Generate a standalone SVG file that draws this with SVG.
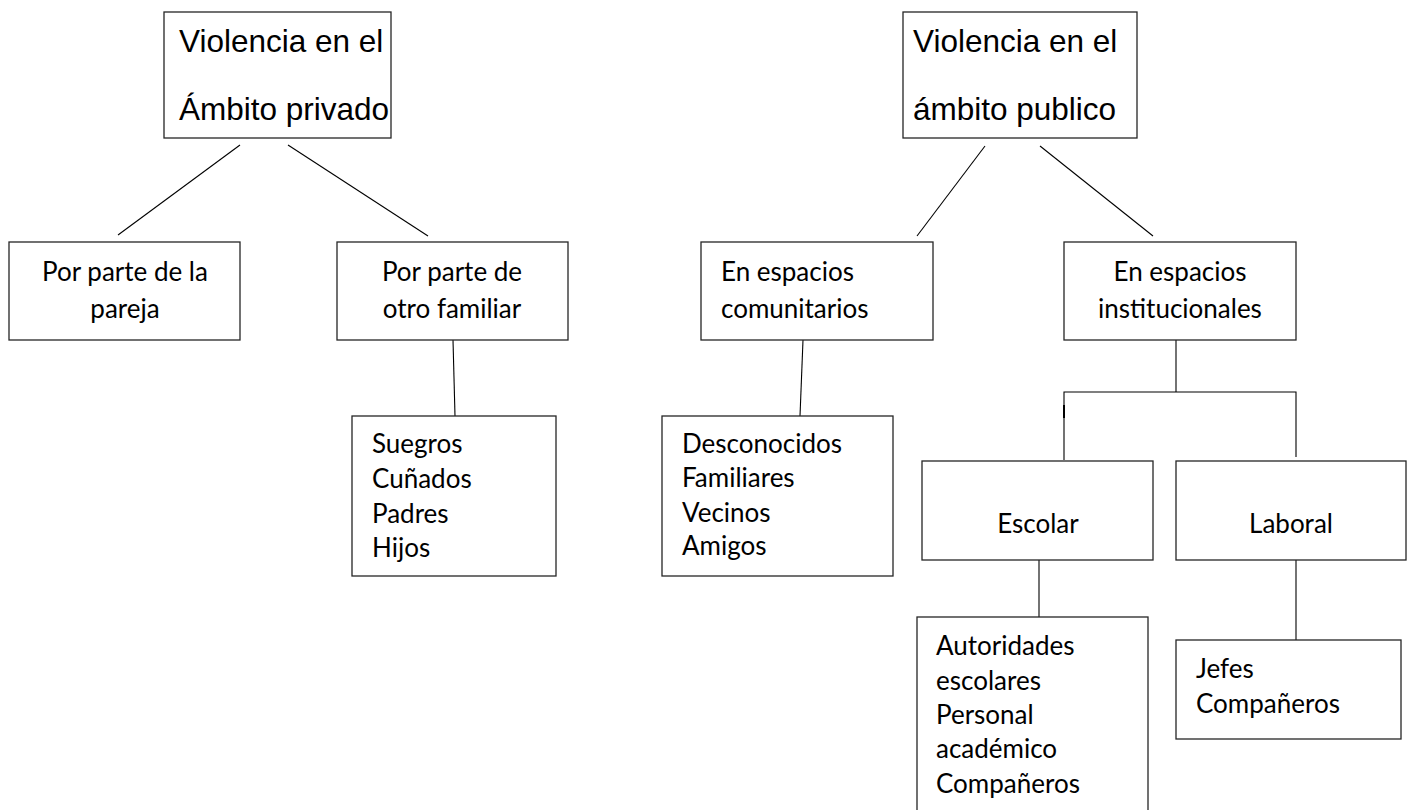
<svg xmlns="http://www.w3.org/2000/svg" width="1408" height="810" viewBox="0 0 1408 810">
<style>
.box{fill:#fff;stroke:#262626;stroke-width:1.3}
.big{font-family:"Liberation Sans",Arial,sans-serif;font-size:31.5px;fill:#000}
.t{font-family:Lato,"Open Sans",sans-serif;font-size:26px;fill:#000}
.c{text-anchor:middle}
.ln{stroke:#000;stroke-width:1.1;fill:none}
</style>
<rect width="1408" height="810" fill="#fff"/>
<g id="connectors">
<line class="ln" x1="240" y1="145" x2="118" y2="235"/>
<line class="ln" x1="288" y1="145" x2="428" y2="236"/>
<line class="ln" x1="985" y1="146" x2="917" y2="236"/>
<line class="ln" x1="1040" y1="146" x2="1153" y2="236"/>
<line class="ln" x1="453" y1="340" x2="455" y2="416"/>
<line class="ln" x1="803" y1="340" x2="800" y2="416"/>
<polyline class="ln" points="1176,340 1176,392"/>
<polyline class="ln" points="1064,460 1064,392 1296,392 1296,457"/>
<line x1="1064" y1="405" x2="1064" y2="418" stroke="#000" stroke-width="2"/>
<line class="ln" x1="1039" y1="560" x2="1039" y2="617"/>
<line class="ln" x1="1296" y1="560" x2="1296" y2="640"/>
</g>
<g id="n-privado">
<rect class="box" x="164" y="12" width="227" height="126"/>
<text class="big" x="179" y="52">Violencia en el</text>
<text class="big" x="179" y="120">Ámbito privado</text>
</g>
<g id="n-publico">
<rect class="box" x="903" y="12" width="234" height="126"/>
<text class="big" x="913" y="52">Violencia en el</text>
<text class="big" x="913" y="120">ámbito publico</text>
</g>
<g id="n-pareja">
<rect class="box" x="9" y="242" width="231" height="98"/>
<text class="t c" x="125" y="281">Por parte de la</text>
<text class="t c" x="125" y="318">pareja</text>
</g>
<g id="n-familiar">
<rect class="box" x="337" y="242" width="231" height="98"/>
<text class="t c" x="452" y="281">Por parte de</text>
<text class="t c" x="452" y="318">otro familiar</text>
</g>
<g id="n-comunitarios">
<rect class="box" x="701" y="242" width="232" height="98"/>
<text class="t" x="721" y="281">En espacios</text>
<text class="t" x="721" y="318">comunitarios</text>
</g>
<g id="n-institucionales">
<rect class="box" x="1064" y="242" width="232" height="98"/>
<text class="t c" x="1180" y="281">En espacios</text>
<text class="t c" x="1180" y="318">institucionales</text>
</g>
<g id="n-suegros">
<rect class="box" x="352" y="416" width="204" height="160"/>
<text class="t" x="372" y="453">Suegros</text>
<text class="t" x="372" y="488">Cuñados</text>
<text class="t" x="372" y="523">Padres</text>
<text class="t" x="372" y="557">Hijos</text>
</g>
<g id="n-desconocidos">
<rect class="box" x="662" y="416" width="231" height="160"/>
<text class="t" x="682" y="453">Desconocidos</text>
<text class="t" x="682" y="487">Familiares</text>
<text class="t" x="682" y="522">Vecinos</text>
<text class="t" x="682" y="555">Amigos</text>
</g>
<g id="n-escolar">
<rect class="box" x="922" y="461" width="231" height="99"/>
<text class="t c" x="1038" y="533">Escolar</text>
</g>
<g id="n-laboral">
<rect class="box" x="1176" y="461" width="230" height="99"/>
<text class="t c" x="1291" y="533">Laboral</text>
</g>
<g id="n-autoridades">
<rect class="box" x="917" y="617" width="231" height="200"/>
<text class="t" x="936" y="655">Autoridades</text>
<text class="t" x="936" y="690">escolares</text>
<text class="t" x="936" y="724">Personal</text>
<text class="t" x="936" y="758">académico</text>
<text class="t" x="936" y="793">Compañeros</text>
</g>
<g id="n-jefes">
<rect class="box" x="1176" y="640" width="225" height="99"/>
<text class="t" x="1196" y="678">Jefes</text>
<text class="t" x="1196" y="713">Compañeros</text>
</g>
</svg>
